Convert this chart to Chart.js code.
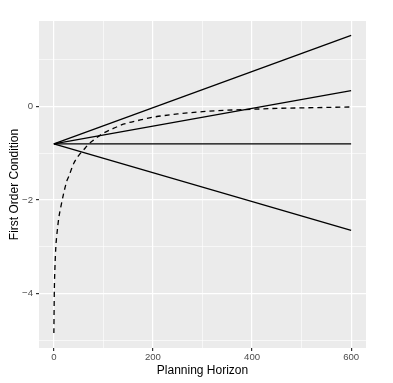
<!DOCTYPE html>
<html>
<head>
<meta charset="utf-8">
<script src="https://cdn.jsdelivr.net/npm/chart.js@4"></script>
<style>
  body { margin: 0; background: #fff; }
  canvas { display: block; }
</style>
</head>
<body>
<canvas id="focChart" width="393" height="383"></canvas>
<script>
// straight lines: value at horizon 0 and at horizon 600
const lineHorizon = [0, 600];
const steepUp = [-0.8, 1.52];
const mildUp = [-0.8, 0.34];
const flat = [-0.8, -0.8];
const down = [-0.8, -2.65];

// dashed curve
const curveHorizon = [0, 1, 2, 4, 6, 8, 10, 15, 20, 26, 30, 40, 50, 60, 70, 80, 90, 100, 120, 140, 170, 200, 250, 300, 350, 400, 450, 500, 550, 600];
const curveFoc = [-4.85, -3.9, -3.5, -3.0, -2.75, -2.55, -2.38, -2.1, -1.85, -1.6, -1.5, -1.22, -1.05, -0.93, -0.81, -0.72, -0.64, -0.57, -0.47, -0.38, -0.3, -0.23, -0.16, -0.11, -0.08, -0.06, -0.04, -0.03, -0.02, -0.01];

const xMajor = [0, 200, 400, 600];
const xMinor = [100, 300, 500];
const yMajor = [-4, -2, 0];
const yMinor = [-5, -3, -1, 1];

const toPoints = (xs, ys) => xs.map((x, i) => ({ x: x, y: ys[i] }));

const solid = (ys) => ({
    data: toPoints(lineHorizon, ys),
    borderColor: '#000',
    borderWidth: 1.3,
    pointRadius: 0,
    fill: false,
});

const panelBg = {
    id: 'panelBg',
    beforeDraw(chart) {
        const { ctx, chartArea } = chart;
        ctx.save();
        ctx.fillStyle = '#EBEBEB';
        ctx.fillRect(chartArea.left, chartArea.top, chartArea.right - chartArea.left, chartArea.bottom - chartArea.top);
        ctx.restore();
    }
};

function gridFor(major) {
    return {
        color: '#FFFFFF',
        lineWidth: ctx => (ctx.tick && major.includes(ctx.tick.value)) ? 1.2 : 0.6,
        tickColor: ctx => (ctx.tick && major.includes(ctx.tick.value)) ? '#333333' : 'rgba(0,0,0,0)',
        tickLength: 3,
        drawTicks: true,
    };
}

const ctx = document.getElementById('focChart').getContext('2d');
new Chart(ctx, {
    type: 'line',
    data: {
        datasets: [
            solid(steepUp),
            solid(mildUp),
            solid(flat),
            solid(down),
            {
                data: toPoints(curveHorizon, curveFoc),
                borderColor: '#000',
                borderWidth: 1.3,
                borderDash: [5, 4],
                pointRadius: 0,
                cubicInterpolationMode: 'monotone',
                fill: false,
            },
        ],
    },
    options: {
        responsive: false,
        animation: false,
        devicePixelRatio: 1,
        layout: { padding: { top: 21, right: 27, left: 0, bottom: 0 } },
        plugins: { legend: { display: false }, tooltip: { enabled: false } },
        scales: {
            x: {
                type: 'linear',
                min: -30,
                max: 630,
                afterBuildTicks: scale => {
                    scale.ticks = xMajor.concat(xMinor).sort((a, b) => a - b).map(v => ({ value: v }));
                },
                afterFit: scale => { scale.height = 35; },
                grid: gridFor(xMajor),
                border: { display: false },
                ticks: {
                    color: '#4D4D4D',
                    font: { family: 'Liberation Sans', size: 9.6 },
                    padding: 1,
                    maxRotation: 0,
                    autoSkip: false,
                    callback: v => xMajor.includes(v) ? String(v) : '',
                },
                title: {
                    display: true,
                    text: 'Planning Horizon',
                    color: '#000',
                    font: { family: 'Liberation Sans', size: 12 },
                    padding: { top: 0, bottom: 5 },
                },
            },
            y: {
                type: 'linear',
                min: -5.17,
                max: 1.83,
                afterBuildTicks: scale => {
                    scale.ticks = yMinor.concat(yMajor).sort((a, b) => a - b).map(v => ({ value: v }));
                },
                afterFit: scale => { scale.width = 39; },
                grid: gridFor(yMajor),
                border: { display: false },
                ticks: {
                    color: '#4D4D4D',
                    font: { family: 'Liberation Sans', size: 9.6 },
                    padding: 3,
                    autoSkip: false,
                    callback: v => yMajor.includes(v) ? String(v).replace('-', '\u2212') : '',
                },
                title: {
                    display: true,
                    text: 'First Order Condition',
                    color: '#000',
                    font: { family: 'Liberation Sans', size: 12 },
                    padding: { top: 7, bottom: 0 },
                },
            },
        },
    },
    plugins: [panelBg],
});
</script>
</body>
</html>
